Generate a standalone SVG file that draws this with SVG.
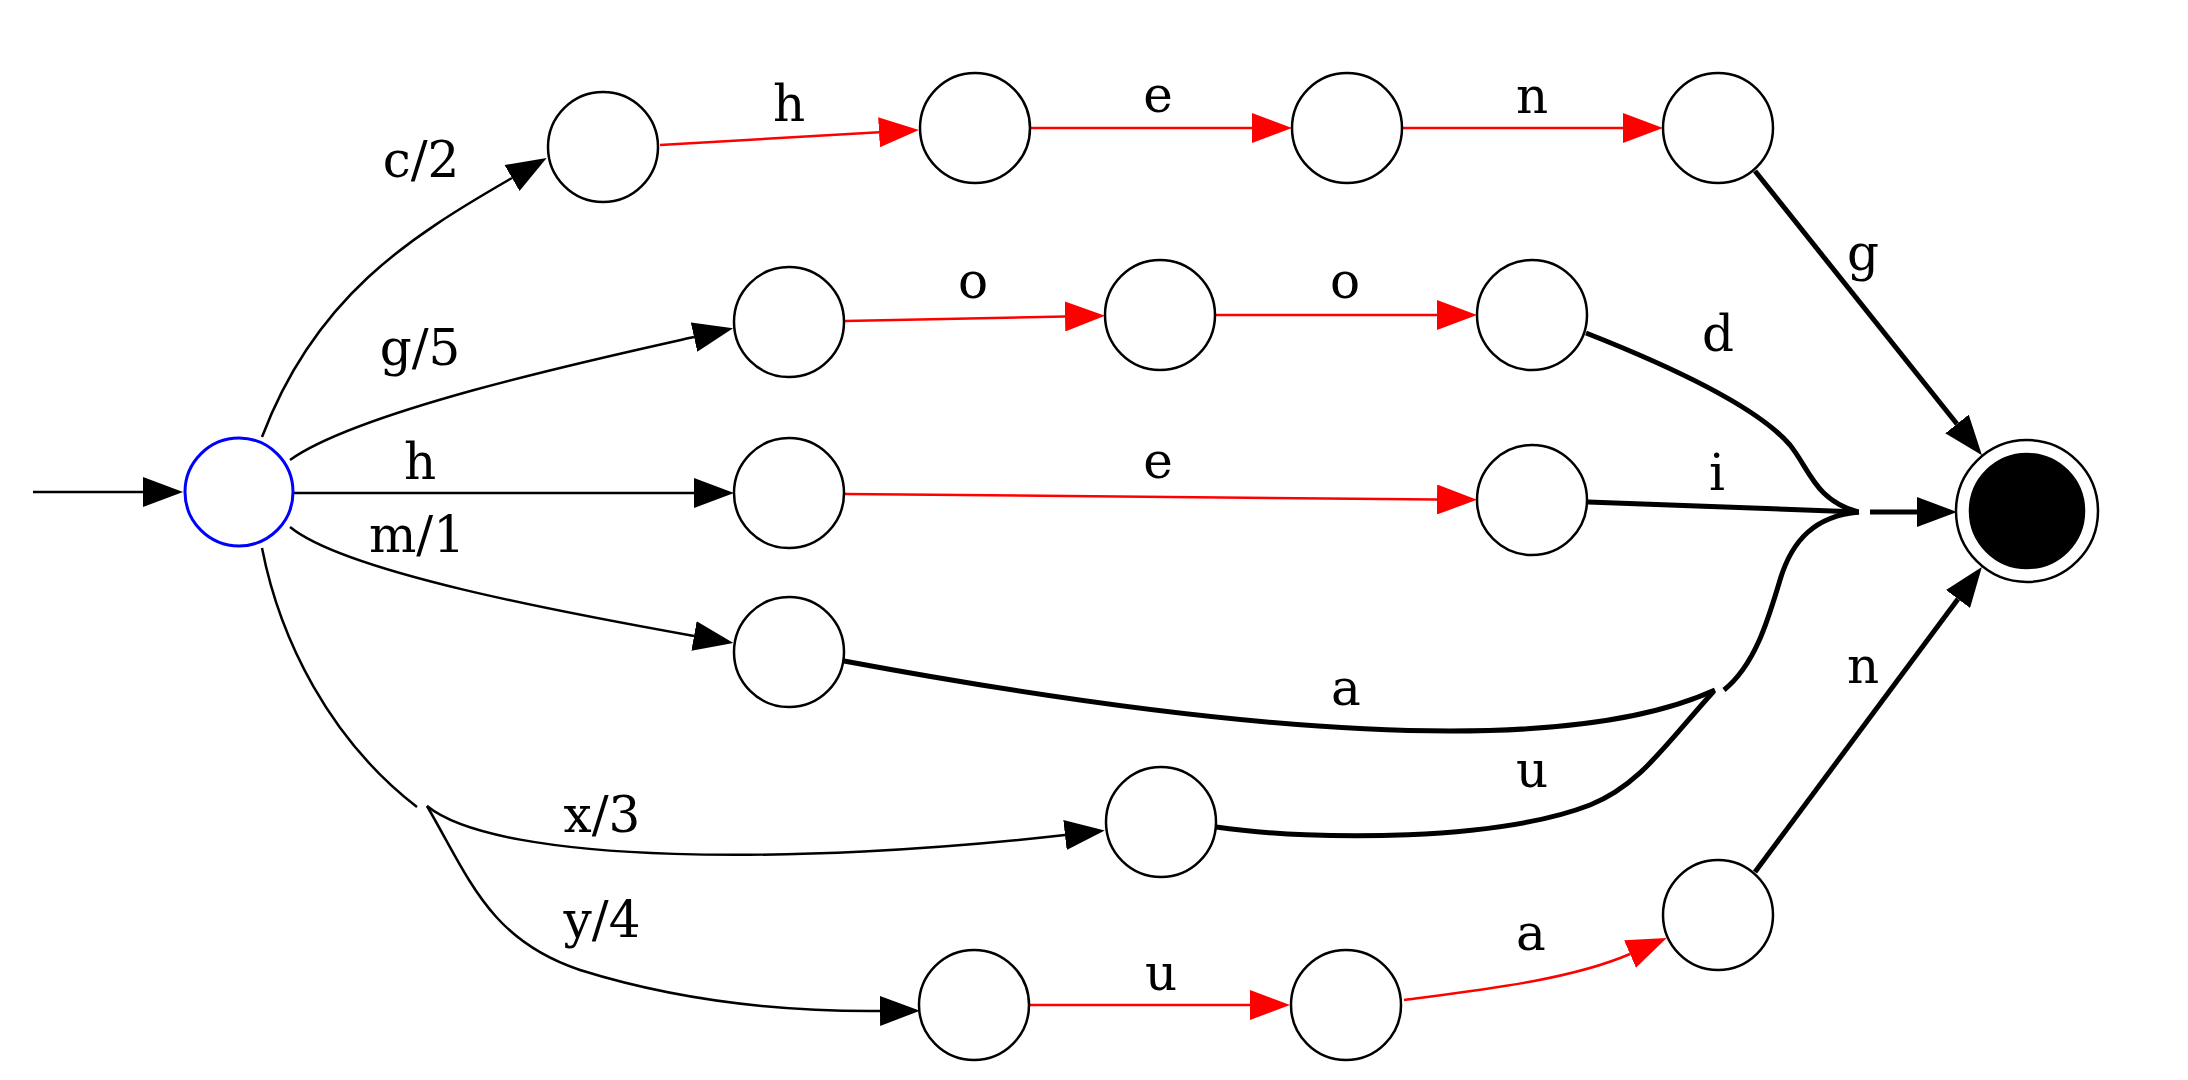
<svg xmlns="http://www.w3.org/2000/svg" width="2188" height="1080" viewBox="0 0 2188 1080">
<style>
.n{fill:#fff;stroke:#000;stroke-width:2.5}
.s{fill:#fff;stroke:#0000ff;stroke-width:3}
.e{fill:none;stroke:#000;stroke-width:2.5}
.r{fill:none;stroke:#ff0000;stroke-width:2.5}
.t{fill:none;stroke:#000;stroke-width:5}
.ab{marker-end:url(#ab)}
.ar{marker-end:url(#ar)}
text{font-family:"DejaVu Serif","Liberation Serif",serif;font-size:50px;text-anchor:middle;fill:#000}
</style>
<defs>
<marker id="ab" markerUnits="userSpaceOnUse" viewBox="0 0 40 30" markerWidth="40" markerHeight="30" refX="0" refY="15" orient="auto"><path d="M0,0 L40,15 L0,30 z" fill="#000"/></marker>
<marker id="ar" markerUnits="userSpaceOnUse" viewBox="0 0 40 30" markerWidth="40" markerHeight="30" refX="0" refY="15" orient="auto"><path d="M0,0 L40,15 L0,30 z" fill="#ff0000"/></marker>
</defs>
<rect width="2188" height="1080" fill="#fff"/>
<g id="connectors">
<path class="e ab" d="M33,492 L143,492"/>
<path class="e ab" d="M262,437 C315,297 408,238 512,178"/>
<path class="e ab" d="M290,460 C360,410 600,358 694,337"/>
<path class="e ab" d="M293,493 L694,493"/>
<path class="e ab" d="M290,527 C345,572 560,612 694,636"/>
<path class="e" d="M262,548 C280,640 330,740 417,807"/>
<path class="e ab" d="M427,806 C500,865 800,865 1065,835"/>
<path class="e ab" d="M427,806 C470,880 490,940 580,970 C660,995 760,1012 880,1011"/>
<path class="r ar" d="M660,145 L879,132.3"/>
<path class="r ar" d="M1031,128 L1252,128"/>
<path class="r ar" d="M1403,128 L1623,128"/>
<path class="r ar" d="M845,321 L1065,316.5"/>
<path class="r ar" d="M1216,315 L1437,315"/>
<path class="r ar" d="M845,494 L1437,499.5"/>
<path class="r ar" d="M1030,1005 L1250,1005"/>
<path class="r ar" d="M1404,1000 C1480,990 1570,980 1630,954"/>
<path class="t ab" d="M1755,171 L1957,424"/>
<path class="t ab" d="M1755,872 L1958,599"/>
<path class="t" d="M1586,333 C1680,370 1760,410 1790,445 C1810,470 1815,500 1858,512"/>
<path class="t" d="M1588,502 L1859,512"/>
<path class="t" d="M1724,690 C1755,665 1768,620 1780,580 C1792,540 1815,516 1859,512"/>
<path class="t" d="M844,661 C1000,690 1250,731 1450,731 C1580,731 1660,715 1715,690"/>
<path class="t" d="M1216,827 C1320,842 1500,840 1590,805 C1640,785 1665,745 1714,691"/>
<path class="t ab" d="M1870,512 L1917,512"/>
<text x="421" y="177">c/2</text>
<text x="420" y="365">g/5</text>
<text x="420" y="479">h</text>
<text x="417" y="552">m/1</text>
<text x="602" y="832">x/3</text>
<text x="602" y="937">y/4</text>
<text x="789" y="121">h</text>
<text x="1158" y="112">e</text>
<text x="1532" y="113">n</text>
<text x="973" y="298">o</text>
<text x="1345" y="298">o</text>
<text x="1158" y="478">e</text>
<text x="1161" y="990">u</text>
<text x="1531" y="950">a</text>
<text x="1346" y="705">a</text>
<text x="1532" y="787">u</text>
<text x="1863" y="270">g</text>
<text x="1718" y="351">d</text>
<text x="1717" y="490">i</text>
<text x="1863" y="683">n</text>
</g>
<g id="start"><circle class="s" cx="239" cy="492" r="54"/></g>
<g id="q_c"><circle class="n" cx="603" cy="147" r="55"/></g>
<g id="q_ch"><circle class="n" cx="975" cy="128" r="55"/></g>
<g id="q_che"><circle class="n" cx="1347" cy="128" r="55"/></g>
<g id="q_chen"><circle class="n" cx="1718" cy="128" r="55"/></g>
<g id="q_g"><circle class="n" cx="789" cy="322" r="55"/></g>
<g id="q_go"><circle class="n" cx="1160" cy="315" r="55"/></g>
<g id="q_goo"><circle class="n" cx="1532" cy="315" r="55"/></g>
<g id="q_h"><circle class="n" cx="789" cy="493" r="55"/></g>
<g id="q_he"><circle class="n" cx="1532" cy="500" r="55"/></g>
<g id="q_m"><circle class="n" cx="789" cy="652" r="55"/></g>
<g id="q_x"><circle class="n" cx="1161" cy="822" r="55"/></g>
<g id="q_y"><circle class="n" cx="974" cy="1005" r="55"/></g>
<g id="q_yu"><circle class="n" cx="1346" cy="1005" r="55"/></g>
<g id="q_yua"><circle class="n" cx="1718" cy="915" r="55"/></g>
<g id="final"><circle class="n" cx="2027" cy="511" r="71"/><circle cx="2027" cy="511" r="57" fill="#000" stroke="#000" stroke-width="2.5"/></g>
</svg>
